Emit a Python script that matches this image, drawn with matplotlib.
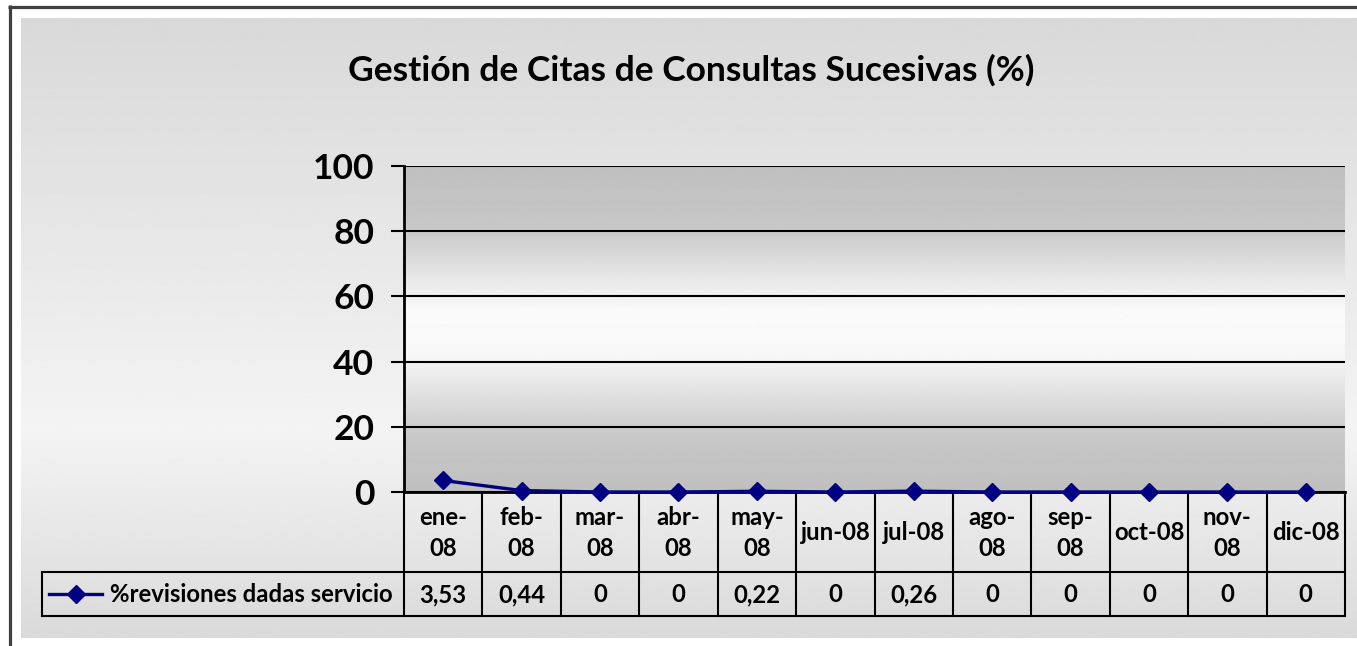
import matplotlib
matplotlib.use('Agg')
import matplotlib.pyplot as plt
import numpy as np

plt.rcParams['font.family'] = ['Lato', 'DejaVu Sans']

# data
meses = ['ene-\n08', 'feb-\n08', 'mar-\n08', 'abr-\n08', 'may-\n08', 'jun-08',
         'jul-08', 'ago-\n08', 'sep-\n08', 'oct-08', 'nov-\n08', 'dic-08']
valores = [3.53, 0.44, 0, 0, 0.22, 0, 0.26, 0, 0, 0, 0, 0]
serie = '%revisiones dadas servicio'
yticks = [0, 20, 40, 60, 80, 100]
titulo = 'Gestión de Citas de Consultas Sucesivas (%)'

W, H = 1357, 646
navy = '#000080'

fig = plt.figure(figsize=(W / 100, H / 100), dpi=100)
fig.patch.set_facecolor('white')


def box(x0, y0, x1, y1):
    # pixel box (top-left origin) -> figure fraction rect
    return [x0 / W, 1 - y1 / H, (x1 - x0) / W, (y1 - y0) / H]


# chart area background (vertical gradient)
bg = fig.add_axes(box(21, 18, W, 638))
yy = np.linspace(18, 638, 300)
grad = np.interp(yy, [18, 430, 638], [0.85, 0.955, 0.855])
bg.imshow(grad[:, None], cmap='gray', vmin=0, vmax=1, aspect='auto',
          extent=(0, 1, 0, 1), interpolation='bilinear')
bg.axis('off')

# overlay in pixel coordinates for frame and table
ov = fig.add_axes([0, 0, 1, 1], facecolor='none')
ov.set_xlim(0, W)
ov.set_ylim(H, 0)
ov.axis('off')
ov.plot([9.5, 9.5], [5, H], color='#404040', lw=2.3, solid_capstyle='butt')
ov.plot([8, W], [6.5, 6.5], color='#404040', lw=2.3, solid_capstyle='butt')

# plot area
px0, px1, py0, py1 = 404, 1345, 166, 492
ax = fig.add_axes(box(px0, py0, px1, py1))
n = len(valores)
x = np.arange(n)
ax.set_xlim(-0.5, n - 0.5)
ax.set_ylim(0, 100)
pg = np.linspace(0, 100, 300)
shade = np.interp(pg, [0, 16, 42, 56, 82, 100], [0.75, 0.78, 0.97, 0.98, 0.78, 0.75])
ax.imshow(shade[::-1, None], cmap='gray', vmin=0, vmax=1, aspect='auto',
          extent=(-0.5, n - 0.5, 0, 100), interpolation='bilinear', zorder=0)
ax.set_yticks(yticks)
ax.set_yticklabels([str(t) for t in yticks], fontsize=25.5, fontweight='bold')
ax.set_xticks([])
ax.tick_params(axis='y', direction='out', length=9.5, width=1.5, pad=12)
ax.yaxis.grid(True, color='black', lw=1.5)
ax.set_axisbelow(False)
for s in ['top', 'right']:
    ax.spines[s].set_visible(False)
ax.spines['left'].set_linewidth(2)
ax.spines['bottom'].set_linewidth(2)
ax.plot(x, valores, color=navy, lw=2.4, marker='D', markersize=9,
        clip_on=False, zorder=5)

fig.text(691 / W, 1 - 70 / H, titulo, ha='center', va='center',
         fontsize=25.5, fontweight='bold')

# data table
colw = (px1 - px0) / n
hdr_bot, row_bot, leg_left = 572, 616, 42
fs = 17.2
for k in range(n + 1):
    xb = px0 + k * colw
    ov.plot([xb, xb], [py1, row_bot], color='black', lw=1.5)
ov.plot([leg_left, px1], [hdr_bot, hdr_bot], color='black', lw=1.5)
ov.plot([leg_left, px1], [row_bot, row_bot], color='black', lw=1.5)
ov.plot([leg_left, leg_left], [hdr_bot, row_bot], color='black', lw=1.5)
for i, (m, v) in enumerate(zip(meses, valores)):
    cx = px0 + (i + 0.5) * colw
    ov.text(cx, (py1 + hdr_bot) / 2 + 1, m, ha='center', va='center',
            fontsize=fs, fontweight='bold', linespacing=1.45)
    ov.text(cx, (hdr_bot + row_bot) / 2 + 1, f'{v:g}'.replace('.', ','),
            ha='center', va='center', fontsize=fs, fontweight='bold')
ymid = (hdr_bot + row_bot) / 2
ov.plot([49, 102], [ymid, ymid], color=navy, lw=2.4)
ov.plot([76], [ymid], color=navy, marker='D', markersize=9)
ov.text(110, ymid + 1, serie, ha='left', va='center', fontsize=fs,
        fontweight='bold')

fig.savefig('out.png', dpi=100)
